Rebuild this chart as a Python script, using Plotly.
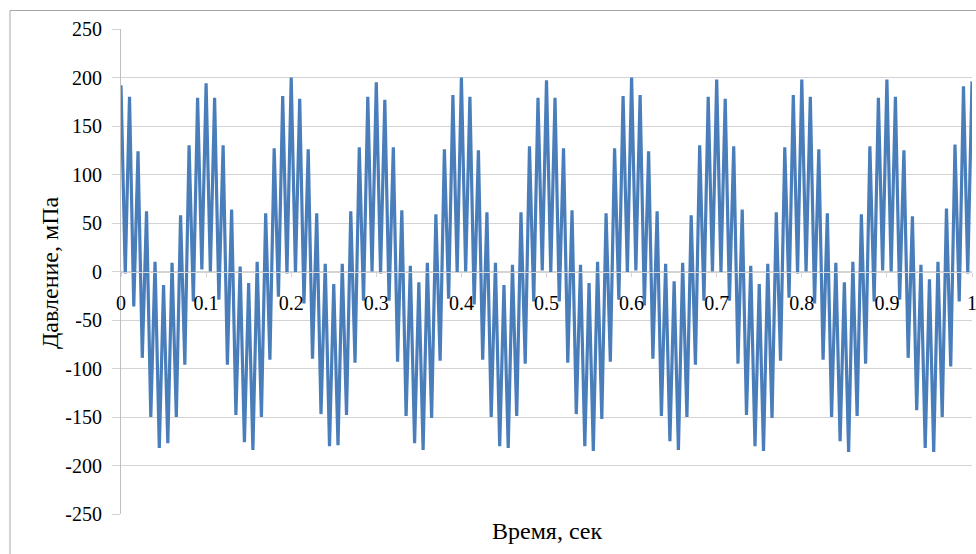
import plotly.graph_objects as go

# Time of each extremum of the pressure trace (s)
time_s = [
    0.000, 0.005, 0.010, 0.015, 0.020, 0.025, 0.030, 0.035, 0.040, 0.045, 0.050, 0.055, 0.060, 0.065, 0.070, 0.075, 0.080, 0.085, 0.090, 0.095,
    0.100, 0.105, 0.110, 0.115, 0.120, 0.125, 0.130, 0.135, 0.140, 0.145, 0.150, 0.155, 0.160, 0.165, 0.170, 0.175, 0.180, 0.185, 0.190, 0.195,
    0.200, 0.205, 0.210, 0.215, 0.220, 0.225, 0.230, 0.235, 0.240, 0.245, 0.250, 0.255, 0.260, 0.265, 0.270, 0.275, 0.280, 0.285, 0.290, 0.295,
    0.300, 0.305, 0.310, 0.315, 0.320, 0.325, 0.330, 0.335, 0.340, 0.345, 0.350, 0.355, 0.360, 0.365, 0.370, 0.375, 0.380, 0.385, 0.390, 0.395,
    0.400, 0.405, 0.410, 0.415, 0.420, 0.425, 0.430, 0.435, 0.440, 0.445, 0.450, 0.455, 0.460, 0.465, 0.470, 0.475, 0.480, 0.485, 0.490, 0.495,
    0.500, 0.505, 0.510, 0.515, 0.520, 0.525, 0.530, 0.535, 0.540, 0.545, 0.550, 0.555, 0.560, 0.565, 0.570, 0.575, 0.580, 0.585, 0.590, 0.595,
    0.600, 0.605, 0.610, 0.615, 0.620, 0.625, 0.630, 0.635, 0.640, 0.645, 0.650, 0.655, 0.660, 0.665, 0.670, 0.675, 0.680, 0.685, 0.690, 0.695,
    0.700, 0.705, 0.710, 0.715, 0.720, 0.725, 0.730, 0.735, 0.740, 0.745, 0.750, 0.755, 0.760, 0.765, 0.770, 0.775, 0.780, 0.785, 0.790, 0.795,
    0.800, 0.805, 0.810, 0.815, 0.820, 0.825, 0.830, 0.835, 0.840, 0.845, 0.850, 0.855, 0.860, 0.865, 0.870, 0.875, 0.880, 0.885, 0.890, 0.895,
    0.900, 0.905, 0.910, 0.915, 0.920, 0.925, 0.930, 0.935, 0.940, 0.945, 0.950, 0.955, 0.960, 0.965, 0.970, 0.975, 0.980, 0.985, 0.990, 0.995,
    1.000,
]

# Pressure at those instants (mPa)
pressure_mpa = [
    192, -2, 180, -36, 124, -89, 62, -150, 10, -182, -14, -177, 9, -150, 58, -96, 130, -31, 179, 2,
    194, 0, 179, -29, 130, -96, 64, -148, 5, -176, -12, -184, 10, -150, 60, -91, 127, -26, 181, -2,
    200, -1, 178, -33, 126, -90, 60, -147, 8, -180, -13, -179, 8, -148, 62, -94, 128, -30, 180, 0,
    195, -2, 177, -30, 128, -93, 63, -149, 6, -177, -11, -184, 9, -151, 59, -92, 126, -28, 182, -1,
    200, 0, 180, -34, 125, -91, 61, -150, 9, -180, -14, -182, 7, -149, 61, -95, 129, -31, 179, 1,
    197, -1, 179, -31, 127, -94, 63, -147, 7, -180, -12, -185, 10, -152, 60, -93, 127, -29, 181, -1,
    200, 1, 182, -35, 124, -90, 62, -149, 8, -175, -10, -184, 9, -150, 58, -96, 130, -30, 180, 0,
    198, -1, 178, -30, 129, -95, 64, -148, 6, -180, -13, -185, 8, -151, 61, -92, 128, -27, 182, -2,
    198, 0, 180, -33, 126, -91, 60, -150, 9, -175, -11, -186, 10, -149, 59, -95, 129, -31, 179, 1,
    198, 0, 180, -29, 125, -89, 57, -143, 7, -182, -8, -186, 10, -150, 65, -98, 131, -31, 191, -2,
    196,
]

x_tick_vals = [0, 0.1, 0.2, 0.3, 0.4, 0.5, 0.6, 0.7, 0.8, 0.9, 1]
x_tick_text = ["0", "0.1", "0.2", "0.3", "0.4", "0.5", "0.6", "0.7", "0.8", "0.9", "1"]
y_tick_vals = [-250, -200, -150, -100, -50, 0, 50, 100, 150, 200, 250]
y_tick_text = ["-250", "-200", "-150", "-100", "-50", "0", "50", "100", "150", "200", "250"]

x_title = "Время, сек"
y_title = "Давление, мПа"

W, H = 976, 554
ML, MR, MT, MB = 121, 4, 29, 40
FONT = "Liberation Serif"
GRID = "#d4d4d4"

pw = W - ML - MR
ph = H - MT - MB


def px(xp):
    return (xp - ML) / pw


def py(yp):
    return (H - MB - yp) / ph


fig = go.Figure()
fig.add_trace(go.Scatter(
    x=time_s, y=pressure_mpa, mode="lines",
    line=dict(color="#4a7ebb", width=3.2),
    showlegend=False, hoverinfo="skip",
))

fig.update_layout(
    width=W, height=H,
    margin=dict(l=ML, r=MR, t=MT, b=MB, autoexpand=False),
    paper_bgcolor="white", plot_bgcolor="white",
    font=dict(family=FONT, size=20, color="#000000"),
    xaxis=dict(
        range=[0, 1], tickmode="array", tickvals=x_tick_vals, ticktext=x_tick_text,
        anchor="free", position=0.5,
        showgrid=False, zeroline=False,
        showline=True, linecolor=GRID, linewidth=1,
        ticks="outside", ticklen=4, tickcolor=GRID,
        tickfont=dict(family=FONT, size=20, color="#000000"),
        ticklabelstandoff=9, ticklabeloverflow="allow",
    ),
    yaxis=dict(
        range=[-250, 250], tickmode="array", tickvals=y_tick_vals, ticktext=y_tick_text,
        showgrid=True, gridcolor=GRID, gridwidth=1,
        zeroline=False,
        showline=True, linecolor="#bfbfbf", linewidth=1,
        ticks="outside", ticklen=8, tickcolor=GRID,
        tickfont=dict(family=FONT, size=20, color="#000000"),
        ticklabelstandoff=6,
    ),
    annotations=[
        dict(text=x_title, xref="paper", yref="paper",
             x=px(546.5), y=py(531), xanchor="center", yanchor="middle",
             showarrow=False, font=dict(family=FONT, size=24, color="#000000")),
        dict(text=y_title, xref="paper", yref="paper",
             x=px(50), y=py(273), xanchor="center", yanchor="middle",
             textangle=-90,
             showarrow=False, font=dict(family=FONT, size=24, color="#000000")),
    ],
    shapes=[
        dict(type="rect", xref="paper", yref="paper",
             x0=px(10), x1=px(995),
             y0=py(575), y1=py(10.5),
             line=dict(color="#a6a6a6", width=1), fillcolor="rgba(0,0,0,0)", layer="below"),
    ],
)

fig.write_html(
    "out.html",
    config={"displayModeBar": False},
    post_script="document.body.style.margin='0';document.body.style.overflow='hidden';",
)
